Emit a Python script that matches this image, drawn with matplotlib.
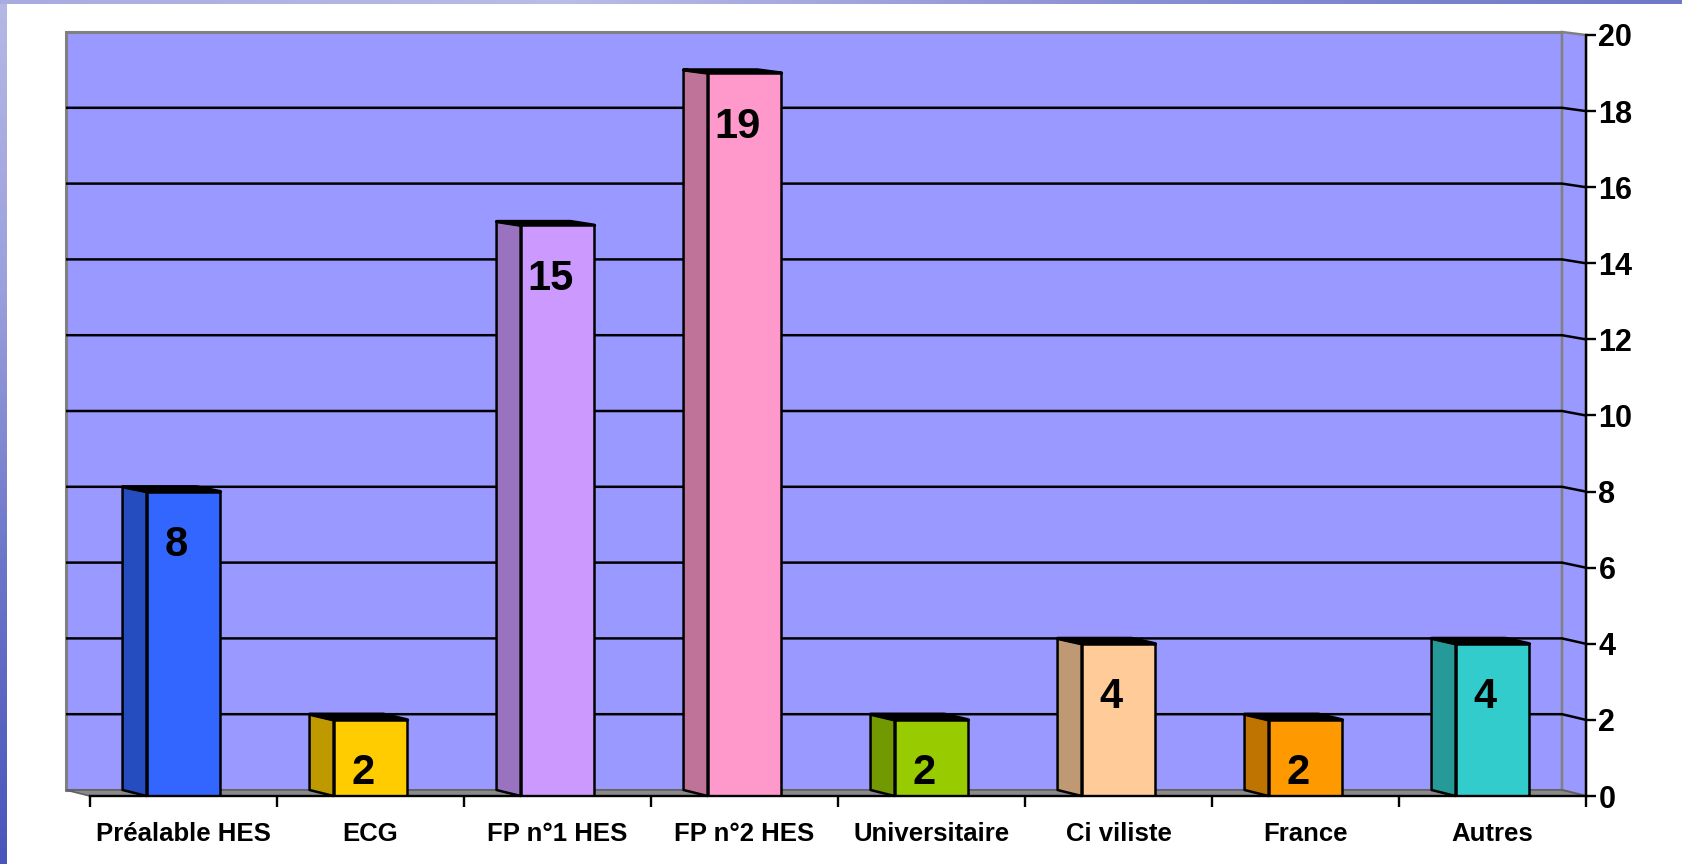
import numpy as np
import matplotlib
matplotlib.use("Agg")
import matplotlib.pyplot as plt
from matplotlib.patches import Polygon
from matplotlib.colors import to_rgb

# ---- data ----
categories = ["Préalable HES", "ECG", "FP n°1 HES", "FP n°2 HES",
              "Universitaire", "Ci viliste", "France", "Autres"]
values = [8, 2, 15, 19, 2, 4, 2, 4]
front_colors = ["#3366FF", "#FFCC00", "#CC99FF", "#FF99CC",
                "#99CC00", "#FFCC99", "#FF9900", "#33CCCC"]
y_ticks = list(range(0, 21, 2))

W, H = 1683, 864
fig = plt.figure(figsize=(W / 100, H / 100), dpi=100)
fig.patch.set_facecolor("white")

# decorative background strips (slide background)
bg = fig.add_axes([0, 0, 1, 1], zorder=-10)
bg.set_xlim(0, W); bg.set_ylim(H, 0); bg.axis("off")
grad = np.linspace(0, 1, 64).reshape(-1, 1)
cmap_left = matplotlib.colors.LinearSegmentedColormap.from_list("l", ["#b4b8e4", "#9aa0dc", "#6a74c8", "#4a56bc"])
bg.imshow(grad, extent=[0, 7, H, 0], aspect="auto", cmap=cmap_left, interpolation="bilinear")
cmap_top = matplotlib.colors.LinearSegmentedColormap.from_list("t", ["#a8ace0", "#b8bce8", "#8a90d4", "#7078c8"])
bg.imshow(grad.T, extent=[0, W, 4, 0], aspect="auto", cmap=cmap_top, interpolation="bilinear")

# main axes = front plane
x0, x1 = 90, 1586
y0, y1 = 796, 35
ax = fig.add_axes([x0 / W, (H - y0) / H, (x1 - x0) / W, (y0 - y1) / H])
n = len(categories)
ax.set_xlim(0, n)
ax.set_ylim(0, 20)
ax.set_facecolor("none")

px_x = (x1 - x0) / n          # pixels per category
px_y = (y0 - y1) / 20.0       # pixels per unit
DX = -24 / px_x               # depth offset in x (data)

def back_y(v):
    return (6 + 37.9 * v) / px_y

wall_c = "#9999FF"
edge_gray = "#808080"

# back wall
bx0, bx1 = DX, n + DX
ax.add_patch(Polygon([(bx0, back_y(0)), (bx1, back_y(0)), (bx1, back_y(20)), (bx0, back_y(20))],
                     closed=True, facecolor=wall_c, edgecolor=edge_gray, lw=2.2,
                     clip_on=False, zorder=1))
# right side wall
ax.add_patch(Polygon([(bx1, back_y(0)), (n, 0), (n, 20), (bx1, back_y(20))],
                     closed=True, facecolor=wall_c, edgecolor=edge_gray, lw=1.8,
                     clip_on=False, zorder=1))
# floor
ax.add_patch(Polygon([(bx0, back_y(0)), (bx1, back_y(0)), (n, 0), (0, 0)],
                     closed=True, facecolor="#8a8a8a", edgecolor="#606060", lw=1.2,
                     clip_on=False, zorder=1.5))

# gridlines on back and side wall
for v in y_ticks[1:-1]:
    ax.plot([bx0, bx1, n], [back_y(v), back_y(v), v], color="black", lw=1.8,
            clip_on=False, zorder=2, solid_capstyle="butt")

# bars
bw = 0.395
for i, (v, c) in enumerate(zip(values, front_colors)):
    xc = i + 0.5
    l, r = xc - bw / 2, xc + bw / 2
    side = tuple(np.array(to_rgb(c)) * 0.75)
    # left side face
    ax.add_patch(Polygon([(l + DX, back_y(0)), (l, 0), (l, v), (l + DX, back_y(v))],
                         closed=True, facecolor=side, edgecolor="black", lw=1.8,
                         clip_on=False, zorder=3, joinstyle="round"))
    # top face
    ax.add_patch(Polygon([(l + DX, back_y(v)), (l, v), (r, v), (r + DX, back_y(v))],
                         closed=True, facecolor="black", edgecolor="black", lw=2.4,
                         clip_on=False, zorder=3, joinstyle="round"))
    # front face
    ax.bar(xc, v, width=bw, color=c, edgecolor="black", linewidth=1.8, zorder=4)
    ax.annotate(str(v), xy=(xc - 0.04, v), xytext=(0, -38.5), textcoords="offset points",
                ha="center", va="center", fontsize=30, fontweight="bold",
                family="Liberation Sans", zorder=5)

# axes styling
for s in ["top", "left"]:
    ax.spines[s].set_visible(False)
ax.spines["right"].set_linewidth(1.7)
ax.spines["bottom"].set_linewidth(1.7)
ax.spines["right"].set_zorder(6)
ax.spines["bottom"].set_zorder(6)

ax.yaxis.tick_right()
ax.set_yticks(y_ticks)
ax.set_yticklabels([str(t) for t in y_ticks])
ax.tick_params(axis="y", direction="out", length=7, width=1.7, pad=2,
               labelsize=22)
for t in ax.get_yticklabels():
    t.set_fontweight("bold"); t.set_family("Liberation Sans")

ax.set_xticks(np.arange(0, n + 1))
ax.set_xticklabels([""] * (n + 1))
ax.set_xticks(np.arange(n) + 0.5, minor=True)
ax.set_xticklabels(categories, minor=True)
ax.tick_params(axis="x", which="major", direction="out", length=8, width=1.7)
ax.tick_params(axis="x", which="minor", length=0, pad=18.5, labelsize=18.5)
for t in ax.get_xticklabels(minor=True):
    t.set_fontweight("bold"); t.set_family("Liberation Sans")

fig.savefig("out.png", dpi=100, facecolor="white")
